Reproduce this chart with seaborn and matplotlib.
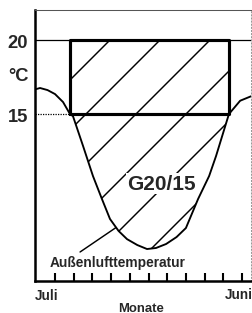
import numpy as np
import pandas as pd
import seaborn as sns
import matplotlib.pyplot as plt

# outdoor temperature curve (months after start of July, deg C)
month_pos = [0.0, 0.2, 0.6, 1.0, 1.43, 1.8, 1.96, 2.5, 3.03, 3.5, 3.94, 4.4, 4.85,
             5.4, 5.92, 6.4, 6.94, 7.5, 8.0, 8.65, 9.24, 9.61, 10.3, 10.9, 11.48]
outside_temp = [16.69, 16.76, 16.62, 16.35, 15.81, 15.0, 14.86, 12.84, 10.81, 9.29, 7.91,
                7.1, 6.55, 6.15, 5.88, 5.95, 6.22, 6.69, 7.3, 9.26, 10.81, 12.16, 15.0,
                15.9, 16.2]

room_temp = 20       # Innentemperatur
heat_limit = 15      # Heizgrenze
heat_start = 1.8     # months where curve crosses 15 deg
heat_end = 10.3
month_ticks = list(range(1, 12))
ytick_pos = [15, 17.77, 20]
ytick_labels = ['15', '°C', '20']

df = pd.DataFrame({'monat': month_pos, 'temp': outside_temp})

sns.set_style('white')
plt.rcParams['font.family'] = ['Liberation Sans', 'DejaVu Sans']
plt.rcParams['hatch.linewidth'] = 0.7

fig = plt.figure(figsize=(1.68, 2.0933), dpi=150)
ax = fig.add_axes([35 / 252, 32 / 314, 216 / 252, 271 / 314])

# hatched heating degree area
sub = df[(df.monat >= heat_start) & (df.monat <= heat_end)]
ax.fill_between(sub.monat, sub.temp, room_temp, facecolor='white',
                edgecolor='black', hatch='/', linewidth=0, zorder=1)

sns.lineplot(data=df, x='monat', y='temp', color='black', linewidth=0.9, ax=ax,
             zorder=3)

# box between 15 and 20 deg
ax.plot([heat_start, heat_end, heat_end, heat_start, heat_start],
        [heat_limit, heat_limit, room_temp, room_temp, heat_limit],
        color='black', linewidth=1.5, zorder=4)
ax.axhline(room_temp, color='black', linewidth=0.6, zorder=2)
ax.plot([-0.07, heat_start], [heat_limit, heat_limit], color='black',
        linewidth=0.6, linestyle=(0, (1, 1)), zorder=2)

ax.text(6.67, 10.3, 'G20/15', fontsize=10, ha='center', va='center',
        fontweight='bold', zorder=5,
        bbox=dict(facecolor='white', edgecolor='none', pad=0.5))
ax.text(4.34, 5.0, 'Außenlufttemperatur', fontsize=6.6, ha='center',
        va='center', fontweight='bold', zorder=5)
ax.annotate('', xy=(4.26, 7.33), xytext=(2.34, 5.68),
            arrowprops=dict(arrowstyle='-', color='black', linewidth=0.7,
                            shrinkA=0, shrinkB=0))

ax.set_xlim(-0.07, 11.48)
ax.set_ylim(3.72, 22.03)
ax.set_xticks([])
# month ticks pointing inward from the bottom axis
ax.vlines(month_ticks, 0, 0.03, transform=ax.get_xaxis_transform(),
          color='black', linewidth=1.0, zorder=6, clip_on=False)
ax.set_yticks(ytick_pos)
ax.set_yticklabels(ytick_labels, fontsize=8.8, fontweight='bold')
ax.tick_params(axis='y', length=0, pad=3.2)
ax.set_xlabel('')
ax.set_ylabel('')

for side in ['left', 'bottom']:
    ax.spines[side].set_linewidth(1.2)
    ax.spines[side].set_color('black')
ax.spines['top'].set_linewidth(0.5)
ax.spines['top'].set_color('#555555')
ax.spines['right'].set_linewidth(0.5)
ax.spines['right'].set_color('#999999')
ax.spines['right'].set_linestyle((0, (1, 2)))

fig.text(47 / 252, 1 - 296 / 314, 'Juli', fontsize=6.5, fontweight='bold',
         ha='center', va='center')
fig.text(239 / 252, 1 - 295 / 314, 'Juni', fontsize=6.5, fontweight='bold',
         ha='center', va='center')
fig.text(141 / 252, 1 - 309 / 314, 'Monate', fontsize=6.3, fontweight='bold',
         ha='center', va='center')

fig.savefig('out.png', dpi=150)
